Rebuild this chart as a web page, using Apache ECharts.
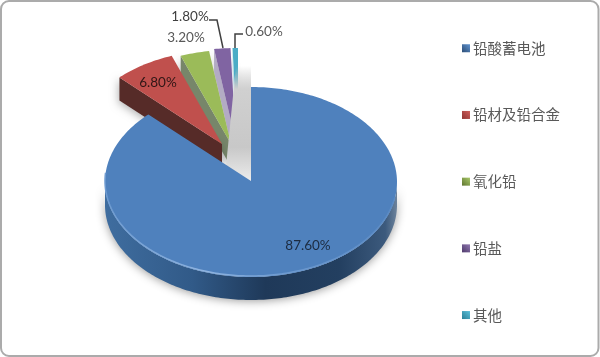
<!DOCTYPE html>
<html>
<head>
<meta charset="utf-8">
<style>
  html, body { margin: 0; padding: 0; background: #fff; }
  #chart { width: 600px; height: 357px; }
</style>
<script src="https://cdn.jsdelivr.net/npm/echarts@6/dist/echarts.min.js"></script>
</head>
<body>
<div id="chart"></div>
<script>
const categories = ["铅酸蓄电池", "铅材及铅合金", "氧化铅", "铅盐", "其他"];
const shares = [87.6, 6.8, 3.2, 1.8, 0.6];

// colours and offsets of the exploded slices, same order as categories
const faceColors = ["#4f81bd", "#c0504d", "#9bbb59", "#8064a2", "#4bacc6"];
const wallColors = ["#2c4d75", "#562b28", "#77866a", "#b3abc4", "#c4dde6"];
const sliceOffsets = [[0, 0], [-29, -37], [-20, -37], [-15, -39], [-13, -39]];
const labelSpots = [[308, 246], [158, 83], [186, 38], [190, 17], [264, 32]];
const labelColors = ["#1c2b40", "#301616", "#595959", "#404040", "#595959"];
const leaderLines = [null, null, null, [[209, 20], [217, 20], [223, 48]], [[243, 34], [235, 34], [235, 48]]];
// big slice on top, then the exploded ones from left to right
const drawOrder = [5, 4, 3, 2, 1];

const cx = 251, cy = 182, rx = 146, ry = 95, depth = 23;
const total = shares.reduce((a, b) => a + b, 0);

// clockwise from 12 o'clock, in degrees
const startAngles = [];
shares.reduce((acc, v, i) => {
  startAngles[i] = acc;
  return acc + (v / total) * 360;
}, 0);

const rimPoint = (deg, ox, oy, down) => {
  const a = (deg * Math.PI) / 180;
  return [cx + ox + rx * Math.sin(a), cy + oy - ry * Math.cos(a) + (down || 0)];
};

const arcPoints = (from, to, ox, oy, down) => {
  const pts = [];
  const steps = Math.max(2, Math.ceil(Math.abs(to - from)));
  for (let i = 0; i <= steps; i++) {
    pts.push(rimPoint(from + ((to - from) * i) / steps, ox, oy, down));
  }
  return pts;
};

const sideGradient = {
  type: "linear", x: 0, y: 0, x2: 1, y2: 0,
  colorStops: [
    { offset: 0, color: "#3f6d9f" },
    { offset: 0.3, color: "#315a88" },
    { offset: 0.55, color: "#1f3959" },
    { offset: 0.8, color: "#233f60" },
    { offset: 0.96, color: "#3c5a7d" },
    { offset: 1, color: "#6d839c" },
  ],
};

const renderSlice = (index) => (params, api) => {
  const start = startAngles[index];
  const end = start + (api.value(0) / total) * 360;
  const [ox, oy] = sliceOffsets[index];
  const apex = [cx + ox, cy + oy - 1];
  const children = [];

  if (index === 0) {
    // wedge left open by the exploded slices, shaded grey
    children.push({
      type: "polygon",
      shape: { points: [[251, 66], [251, 182], [226, 166], [236, 66]] },
      style: {
        fill: {
          type: "linear", x: 0, y: 0, x2: 0, y2: 1,
          colorStops: [
            { offset: 0, color: "rgba(190,190,190,0)" },
            { offset: 0.2, color: "#d0d0d0" },
            { offset: 0.7, color: "#c8c8c8" },
            { offset: 1, color: "#ededed" },
          ],
        },
      },
    });
    // outer wall with its soft shadow
    children.push({
      type: "polygon",
      shape: { points: arcPoints(90, 270, 0, 0).concat(arcPoints(270, 90, 0, 0, depth)) },
      style: {
        fill: sideGradient,
        shadowBlur: 10,
        shadowColor: "rgba(0,0,0,0.4)",
        shadowOffsetY: 1,
      },
    });
    children.push({
      type: "polygon",
      shape: { points: [apex].concat(arcPoints(start, end, 0, 0)) },
      style: { fill: faceColors[0] },
    });
    // light bevel along the front rim
    children.push({
      type: "polyline",
      shape: { points: arcPoints(100, 275, 0, -1) },
      style: {
        fill: "none",
        lineWidth: 1.5,
        stroke: {
          type: "linear", x: 0, y: 0, x2: 1, y2: 0,
          colorStops: [
            { offset: 0, color: "#6d9ad0" },
            { offset: 0.35, color: "#8fb4e0" },
            { offset: 0.6, color: "#6f9bd0" },
            { offset: 1, color: "#5a8ac4" },
          ],
        },
      },
    });
  } else {
    // radial wall on the left side of the slice
    const rim = rimPoint(start, ox, oy);
    children.push({
      type: "polygon",
      shape: { points: [apex, rim, [rim[0], rim[1] + depth], [apex[0], apex[1] + depth]] },
      style: {
        fill: wallColors[index],
        shadowBlur: 8,
        shadowColor: "rgba(0,0,0,0.3)",
        shadowOffsetX: -1,
        shadowOffsetY: 2,
      },
    });
    children.push({
      type: "polygon",
      shape: { points: [apex].concat(arcPoints(start, end, ox, oy)) },
      style: { fill: faceColors[index] },
    });
  }

  if (leaderLines[index]) {
    children.push({
      type: "polyline",
      shape: { points: leaderLines[index] },
      style: { fill: "none", stroke: "#404040", lineWidth: 1.5 },
    });
  }

  children.push({
    type: "text",
    style: {
      x: labelSpots[index][0],
      y: labelSpots[index][1],
      text: api.value(0).toFixed(2) + "%",
      fill: labelColors[index],
      font: "13.5px Lato, sans-serif",
      textAlign: "center",
      textVerticalAlign: "middle",
    },
  });

  return { type: "group", children };
};

const legendColor = (dark, light) => ({
  type: "linear", x: 0, y: 1, x2: 1, y2: 0,
  colorStops: [{ offset: 0, color: dark }, { offset: 1, color: light }],
});
const legendColors = [
  legendColor("#2c4d75", "#5f93d0"),
  legendColor("#8e3432", "#cf5f5c"),
  legendColor("#5f7530", "#a9c96a"),
  legendColor("#4e3a6b", "#9078b0"),
  legendColor("#2a7f96", "#5bc0da"),
];

const chart = echarts.init(document.getElementById("chart"), null, { renderer: "canvas" });
chart.setOption({
  animation: false,
  backgroundColor: "#fff",
  graphic: [
    {
      type: "rect",
      shape: { x: 1, y: 1, width: 597.5, height: 355, r: 8 },
      style: { fill: "none", stroke: "#ababab", lineWidth: 2 },
      silent: true,
    },
  ],
  legend: {
    orient: "vertical",
    left: 462,
    top: 41,
    icon: "rect",
    itemWidth: 8,
    itemHeight: 8,
    itemGap: 52.2,
    padding: 0,
    selectedMode: false,
    data: categories,
    textStyle: {
      color: "#595959",
      fontSize: 14.5,
      fontFamily: "'Noto Sans CJK SC', sans-serif",
      padding: [0, 0, 0, -2],
    },
  },
  series: categories.map((name, i) => ({
    type: "custom",
    name,
    coordinateSystem: "none",
    z: drawOrder[i],
    silent: true,
    itemStyle: { color: legendColors[i] },
    data: [shares[i]],
    renderItem: renderSlice(i),
  })),
});
</script>
</body>
</html>
